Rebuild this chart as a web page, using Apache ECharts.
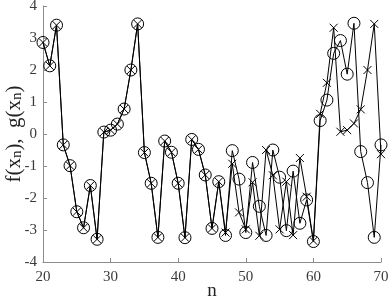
<!DOCTYPE html>
<html>
<head>
<meta charset="utf-8">
<script src="https://cdn.jsdelivr.net/npm/echarts@6/dist/echarts.min.js"></script>
<style>html,body{margin:0;padding:0;background:#fff}#c{width:390px;height:302px}</style>
</head>
<body>
<div id="c"></div>
<script>
const nValues = [20,21,22,23,24,25,26,27,28,29,30,31,32,33,34,35,36,37,38,39,40,41,42,43,44,45,46,47,48,49,50,51,52,53,54,55,56,57,58,59,60,61,62,63,64,65,66,67,68,69,70];
const fValues = [2.86,2.13,3.40,-0.34,-0.99,-2.43,-2.93,-1.61,-3.29,0.06,0.12,0.31,0.78,2.00,3.44,-0.58,-1.54,-3.23,-0.22,-0.57,-1.54,-3.24,-0.17,-0.48,-1.28,-2.95,-1.49,-3.17,-0.52,-1.41,-3.08,-0.89,-2.26,-3.17,-0.50,-1.35,-3.02,-1.16,-2.79,-2.06,-3.36,0.42,1.06,2.52,2.92,1.87,3.46,-0.55,-1.52,-3.23,-0.34];
const gValues = [2.86,2.13,3.40,-0.34,-0.99,-2.43,-2.93,-1.61,-3.29,0.06,0.12,0.31,0.78,2.00,3.44,-0.58,-1.54,-3.23,-0.22,-0.57,-1.54,-3.24,-0.17,-0.48,-1.28,-2.95,-1.49,-3.08,-0.93,-2.45,-2.98,-1.51,-3.18,-0.50,-1.29,-2.98,-1.49,-3.16,-0.75,-1.96,-3.34,0.63,1.60,3.32,0.07,0.12,0.33,0.77,2.00,3.44,-0.63];
const xTicks = [20,30,40,50,60,70];
const yTicks = [-4,-3,-2,-1,0,1,2,3,4];

const serif = '"Liberation Serif","DejaVu Serif",serif';
const chart = echarts.init(document.getElementById('c'), null, {renderer:'canvas'});
const axisGray = '#8c8c8c';
const labelGray = '#3a3a3a';
chart.setOption({
  animation:false,
  grid:{left:43,right:9,top:6,bottom:40,containLabel:false,outerBoundsMode:'none'},
  xAxis:{
    type:'value',min:xTicks[0],max:xTicks[xTicks.length-1],interval:10,
    name:'n',nameLocation:'middle',nameGap:20,nameMoveOverlap:false,
    nameTextStyle:{fontFamily:serif,fontSize:19,color:'#222'},
    axisLine:{show:true,onZero:false,lineStyle:{color:axisGray,width:1}},
    axisTick:{show:true,inside:true,length:4,lineStyle:{color:axisGray}},
    axisLabel:{fontFamily:serif,fontSize:15,color:labelGray,margin:8},
    splitLine:{show:false}
  },
  yAxis:{
    type:'value',min:yTicks[0],max:yTicks[yTicks.length-1],interval:1,
    name:'{a|f(x}{s|n}{a|),  g(x}{s|n}{a|)}',nameLocation:'middle',nameGap:18,nameRotate:90,nameMoveOverlap:false,
    nameTextStyle:{rich:{a:{fontFamily:serif,fontSize:21,color:'#222'},s:{fontFamily:serif,fontSize:15,color:'#222',verticalAlign:'bottom',padding:[7,0,0,0]}}},
    axisLine:{show:true,onZero:false,lineStyle:{color:axisGray,width:1}},
    axisTick:{show:true,inside:true,length:4,lineStyle:{color:axisGray}},
    axisLabel:{fontFamily:serif,fontSize:15,color:labelGray,margin:6},
    splitLine:{show:false}
  },
  series:[
    {
      name:'f',type:'line',data:nValues.map((n,i)=>[n,fValues[i]]),
      symbol:'circle',symbolSize:12,
      lineStyle:{color:'#000',width:1},
      itemStyle:{color:'rgba(0,0,0,0)',borderColor:'#000',borderWidth:1},
      z:2
    },
    {
      name:'g',type:'line',data:nValues.map((n,i)=>[n,gValues[i]]),
      symbol:'path://M0,0L10,10M10,0L0,10',symbolSize:8,
      lineStyle:{color:'#000',width:1},
      itemStyle:{color:'rgba(0,0,0,0)',borderColor:'#000',borderWidth:1},
      z:3
    }
  ]
});
</script>
</body>
</html>
